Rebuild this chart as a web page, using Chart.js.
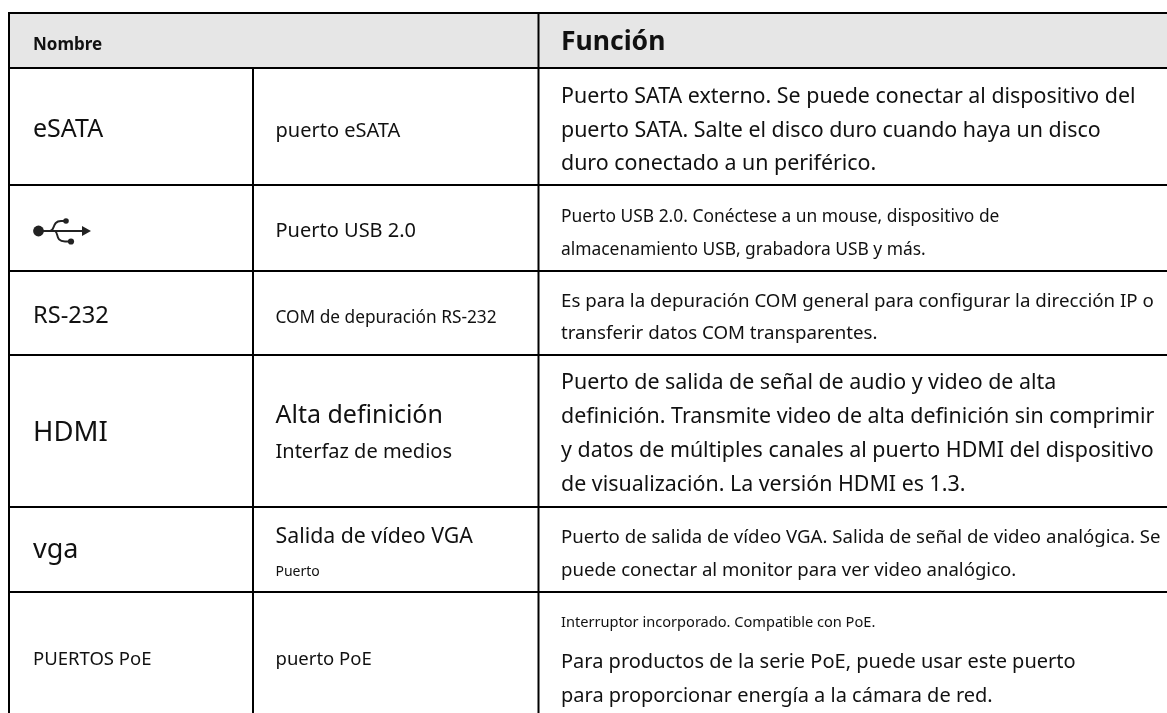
<!DOCTYPE html>
<html lang="es">
<head>
<meta charset="utf-8">
<title>Puertos</title>
<style>
  html, body { margin: 0; padding: 0; background: #fff; }
  canvas { display: block; }
</style>
<script src="https://cdn.jsdelivr.net/npm/chart.js@4/dist/chart.umd.min.js"></script>
</head>
<body>
<canvas id="table" width="1167" height="713"></canvas>
<script>
// Table content
const headers = ['Nombre', 'Función'];
const names = ['eSATA', 'RS-232', 'HDMI', 'vga', 'PUERTOS PoE'];
const ports = [
    'puerto eSATA', 'Puerto USB 2.0', 'COM de depuración RS-232', 'Alta definición',
    'Interfaz de medios', 'Salida de vídeo VGA', 'Puerto', 'puerto PoE'
];
const functions = [
    'Puerto SATA externo. Se puede conectar al dispositivo del',
    'puerto SATA. Salte el disco duro cuando haya un disco',
    'duro conectado a un periférico.',
    'Puerto USB 2.0. Conéctese a un mouse, dispositivo de',
    'almacenamiento USB, grabadora USB y más.',
    'Es para la depuración COM general para configurar la dirección IP o',
    'transferir datos COM transparentes.',
    'Puerto de salida de señal de audio y video de alta',
    'definición. Transmite video de alta definición sin comprimir',
    'y datos de múltiples canales al puerto HDMI del dispositivo',
    'de visualización. La versión HDMI es 1.3.',
    'Puerto de salida de vídeo VGA. Salida de señal de video analógica. Se',
    'puede conectar al monitor para ver video analógico.',
    'Interruptor incorporado. Compatible con PoE.',
    'Para productos de la serie PoE, puede usar este puerto',
    'para proporcionar energía a la cámara de red.'
];

// Table layout, in page pixels
const columnEdges = [9, 253, 538.5];
const rowEdges = [13, 68, 185, 271, 355, 507, 592];
const pageWidth = 1167;
const pageHeight = 713;
const textInset = 23.5;

const headerBaselines = [50, 50];
const headerSizes = [17, 26.5];
const nameBaselines = [137, 323, 441, 558, 665];
const nameSizes = [25, 23.6, 27.5, 27, 18.5];
const portBaselines = [137, 237, 323, 423, 458, 543, 576, 665];
const portSizes = [20, 20, 17.3, 25, 20, 21.3, 14, 18.5];
const functionBaselines = [103, 137, 170, 222, 255, 306.5, 339, 389, 423, 457, 491, 543, 576, 627, 668, 702];
const functionSizes = [21.4, 21.4, 21.4, 17.4, 17.4, 18.7, 18.7, 21.4, 21.4, 21.4, 21.4, 18.6, 18.6, 14.6, 20, 20];

const FONT = '"Noto Sans", sans-serif';
const INK = '#111';

/**
 * Builds a two point rule as a line dataset.
 */
function rule(x1, y1, x2, y2) {
    return {
        data: [{ x: x1, y: y1 }, { x: x2, y: y2 }],
        borderColor: '#000',
        borderWidth: 2,
        pointRadius: 0,
        order: 1
    };
}

const rowRules = rowEdges.map(y => rule(columnEdges[0], y, pageWidth, y));
const columnRules = [
    rule(columnEdges[0], rowEdges[0] - 1, columnEdges[0], pageHeight),
    rule(columnEdges[1], rowEdges[1], columnEdges[1], pageHeight),
    rule(columnEdges[2], rowEdges[0], columnEdges[2], pageHeight)
];
const headerBand = {
    data: [{ x: columnEdges[0], y: rowEdges[1] }, { x: pageWidth, y: rowEdges[1] }],
    borderColor: 'transparent',
    backgroundColor: '#e6e6e6',
    borderWidth: 0,
    pointRadius: 0,
    fill: { value: rowEdges[0] },
    order: 2
};

/**
 * Draws one text column from parallel text, baseline and size lists.
 */
function drawColumn(chart, left, texts, baselines, sizes, weight) {
    const { ctx, scales } = chart;
    ctx.fillStyle = INK;
    ctx.textBaseline = 'alphabetic';
    ctx.textAlign = 'left';
    texts.forEach((text, i) => {
        ctx.font = `${weight} ${sizes[i]}px ${FONT}`;
        ctx.fillText(text, scales.x.getPixelForValue(left), scales.y.getPixelForValue(baselines[i]));
    });
}

/**
 * Draws the USB trident that stands in for the second row's name.
 */
function drawUsbIcon(chart) {
    const { ctx, scales } = chart;
    const X = v => scales.x.getPixelForValue(v);
    const Y = v => scales.y.getPixelForValue(v);
    const dot = (x, y, r) => {
        ctx.beginPath();
        ctx.arc(X(x), Y(y), r, 0, Math.PI * 2);
        ctx.fill();
    };

    ctx.save();
    ctx.filter = 'blur(0.5px)';
    ctx.strokeStyle = '#222';
    ctx.fillStyle = '#222';
    ctx.lineWidth = 1.9;

    ctx.beginPath();
    ctx.moveTo(X(38), Y(231));
    ctx.lineTo(X(85), Y(231));
    ctx.moveTo(X(50), Y(231));
    ctx.bezierCurveTo(X(55), Y(231), X(52), Y(221), X(61), Y(221));
    ctx.lineTo(X(66), Y(221));
    ctx.moveTo(X(55), Y(231));
    ctx.bezierCurveTo(X(59), Y(233), X(55), Y(241.5), X(65), Y(241.5));
    ctx.lineTo(X(71), Y(241.5));
    ctx.stroke();

    dot(38.5, 231, 5.4);
    dot(66, 221, 2.8);
    dot(71, 241.5, 3.1);

    ctx.beginPath();
    ctx.moveTo(X(91), Y(231));
    ctx.lineTo(X(82), Y(226));
    ctx.lineTo(X(82), Y(236));
    ctx.closePath();
    ctx.fill();
    ctx.restore();
}

const tableText = {
    id: 'tableText',
    afterDatasetsDraw(chart) {
        const nameLeft = columnEdges[0] + textInset + 0.5;
        const portLeft = columnEdges[1] + textInset - 1;
        const functionLeft = columnEdges[2] + textInset - 1;
        drawColumn(chart, nameLeft, headers.slice(0, 1), headerBaselines.slice(0, 1), headerSizes.slice(0, 1), 'bold');
        drawColumn(chart, functionLeft, headers.slice(1), headerBaselines.slice(1), headerSizes.slice(1), 'bold');
        drawColumn(chart, nameLeft, names, nameBaselines, nameSizes, 'normal');
        drawColumn(chart, portLeft, ports, portBaselines, portSizes, 'normal');
        drawColumn(chart, functionLeft, functions, functionBaselines, functionSizes, 'normal');
        drawUsbIcon(chart);
    }
};

new Chart(document.getElementById('table'), {
    type: 'line',
    data: { datasets: [headerBand, ...rowRules, ...columnRules] },
    options: {
        responsive: false,
        animation: false,
        parsing: false,
        layout: { padding: 0 },
        plugins: {
            legend: { display: false },
            tooltip: { enabled: false }
        },
        scales: {
            x: { type: 'linear', display: false, min: 0, max: pageWidth },
            y: { type: 'linear', display: false, min: 0, max: pageHeight, reverse: true }
        }
    },
    plugins: [tableText]
});
</script>
</body>
</html>
